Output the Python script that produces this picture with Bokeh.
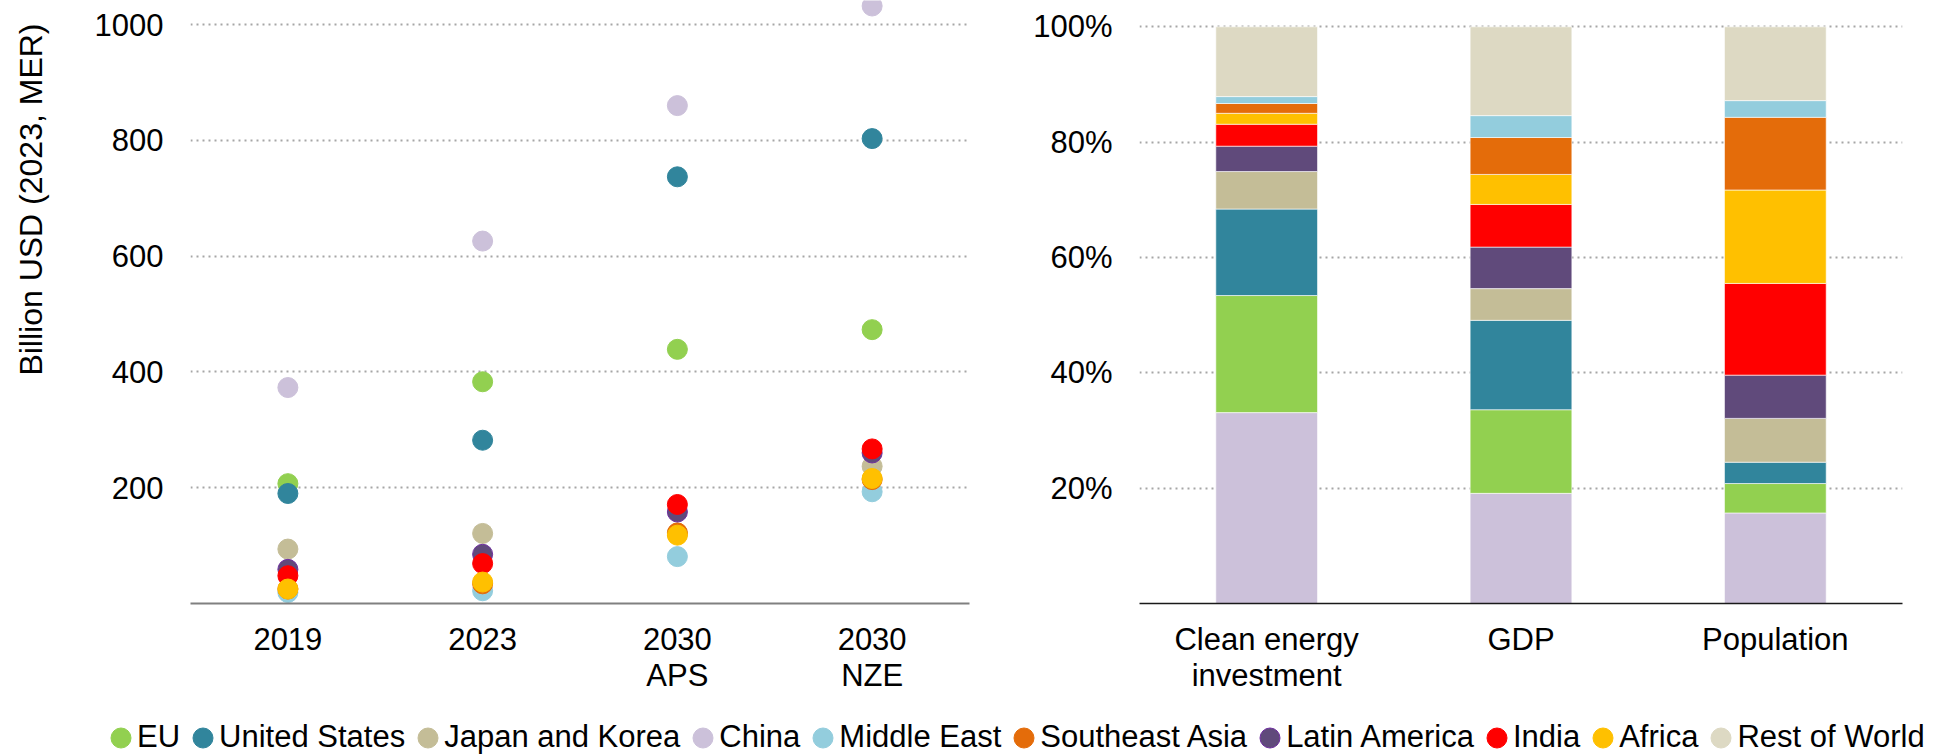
from bokeh.plotting import figure
from bokeh.models import (ColumnDataSource, FactorRange, Range1d, Legend, LegendItem,
                          NumeralTickFormatter, FixedTicker, Title)
from bokeh.layouts import column, row
from bokeh.embed import file_html
from bokeh.resources import INLINE

# ---------------- data ----------------
scenarios = ["2019", "2023", "2030\nAPS", "2030\nNZE"]

regions = ["EU", "United States", "Japan and Korea", "China", "Middle East",
           "Southeast Asia", "Latin America", "India", "Africa", "Rest of World"]
region_colors = ["#92D050", "#31859C", "#C4BD97", "#CCC1DA", "#93CDDD",
                 "#E46C0A", "#604A7B", "#FF0000", "#FFC000", "#DDD9C3"]

# Clean energy investment, billion USD (2023, MER)
inv_eu = [207, 383, 439, 473]
inv_us = [190, 282, 737, 803]
inv_jk = [94, 121, 120, 237]
inv_china = [373, 626, 860, 1032]
inv_me = [19, 22, 81, 193]
inv_sea = [25, 34, 122, 214]
inv_latam = [59, 85, 158, 260]
inv_india = [48, 69, 171, 267]
inv_africa = [25, 37, 118, 216]

# Shares (%) by metric
share_categories = ["Clean energy\ninvestment", "GDP", "Population"]
share_china = [33.1, 19.1, 15.7]
share_eu = [20.3, 14.5, 5.1]
share_us = [15.0, 15.5, 3.7]
share_jk = [6.5, 5.5, 7.6]
share_latam = [4.4, 7.2, 7.5]
share_india = [3.8, 7.4, 15.9]
share_africa = [1.9, 5.2, 16.2]
share_sea = [1.7, 6.4, 12.6]
share_me = [1.2, 3.8, 2.9]
share_row = [12.1, 15.4, 12.8]

left_ticks = [200, 400, 600, 800, 1000]
right_ticks = [0.2, 0.4, 0.6, 0.8, 1.0]
y_title = "Billion USD (2023, MER)"

FONT = "Liberation Sans"
FS = "31px"
color_of = dict(zip(regions, region_colors))

inv_series = {
    "EU": inv_eu, "United States": inv_us, "Japan and Korea": inv_jk,
    "China": inv_china, "Middle East": inv_me, "Southeast Asia": inv_sea,
    "Latin America": inv_latam, "India": inv_india, "Africa": inv_africa,
}
share_series = {
    "China": share_china, "EU": share_eu, "United States": share_us,
    "Japan and Korea": share_jk, "Latin America": share_latam, "India": share_india,
    "Africa": share_africa, "Southeast Asia": share_sea, "Middle East": share_me,
    "Rest of World": share_row,
}


def style_axes(p):
    for ax in (p.xaxis[0], p.yaxis[0]):
        ax.major_tick_line_color = None
        ax.minor_tick_line_color = None
        ax.major_tick_out = 0
        ax.major_tick_in = 0
        ax.major_label_text_font = FONT
        ax.major_label_text_font_size = FS
        ax.major_label_text_color = "black"
    p.xaxis.major_label_text_line_height = 1.03
    p.yaxis.axis_line_color = None
    p.yaxis.major_label_standoff = 27
    p.xaxis.major_label_standoff = 18
    p.xgrid.visible = False
    p.ygrid.grid_line_color = "#a6a6a6"
    p.ygrid.grid_line_dash = "2 4"
    p.ygrid.grid_line_width = 2
    p.outline_line_color = None


# ---------------- y title holder ----------------
p0 = figure(width=60, height=703, x_range=Range1d(0, 1), y_range=Range1d(0, 1),
            x_axis_type=None, y_axis_type=None,
            min_border_left=58, min_border_right=0,
            min_border_top=0, min_border_bottom=100,
            output_backend="svg", toolbar_location=None)
p0.outline_line_color = None
p0.grid.visible = False
p0.add_layout(Title(text=y_title, align="right", offset=23, vertical_align="bottom",
                    standoff=19, text_font=FONT, text_font_size="32px",
                    text_font_style="normal", text_color="black"), "left")

# ---------------- left: scatter ----------------
p1 = figure(x_range=FactorRange(*scenarios), y_range=Range1d(0, 1041.5),
            width=940, height=703, min_border_left=130, min_border_right=31,
            min_border_top=0, min_border_bottom=100,
            output_backend="svg", toolbar_location=None)
style_axes(p1)
p1.yaxis.ticker = FixedTicker(ticks=left_ticks)
p1.xaxis.axis_line_color = "#808080"
p1.xaxis.axis_line_width = 2

for name, vals in inv_series.items():
    src = ColumnDataSource(dict(x=scenarios, y=vals))
    lc = "#7030A0" if name == "Latin America" else color_of[name]
    p1.scatter(x="x", y="y", source=src, size=20, marker="circle",
               fill_color=color_of[name], line_color=lc, line_width=1)

# ---------------- right: stacked shares ----------------
stack_order = list(share_series.keys())
bar_data = {"cat": share_categories}
for name in stack_order:
    bar_data[name] = [v / 100.0 for v in share_series[name]]
bar_src = ColumnDataSource(bar_data)

p2 = figure(x_range=FactorRange(*share_categories), y_range=Range1d(0, 1.0456),
            width=948, height=703, min_border_left=139, min_border_right=46,
            min_border_top=0, min_border_bottom=100,
            output_backend="svg", toolbar_location=None)
style_axes(p2)
p2.yaxis.ticker = FixedTicker(ticks=right_ticks)
p2.yaxis.formatter = NumeralTickFormatter(format="0%")
p2.xaxis.axis_line_color = "#1a1a1a"
p2.xaxis.axis_line_width = 1.5
p2.vbar_stack(stack_order, x="cat", width=0.4, source=bar_src,
              color=[color_of[n] for n in stack_order],
              line_color="white", line_alpha=0.6, line_width=1)

# ---------------- legend ----------------
lf = figure(width=1948, height=52, x_range=Range1d(0, 1), y_range=Range1d(0, 1),
            x_axis_type=None, y_axis_type=None, min_border=0,
            output_backend="svg", toolbar_location=None)
lf.outline_line_color = None
lf.grid.visible = False
items = []
nan = float("nan")
for name in regions:
    lc = "#7030A0" if name == "Latin America" else color_of[name]
    r = lf.ellipse(x=[nan], y=[nan], width=20, height=20,
                   width_units="screen", height_units="screen",
                   fill_color=color_of[name], line_color=lc, line_width=1)
    items.append(LegendItem(label=name, renderers=[r]))
legend = Legend(items=items, orientation="horizontal", location=(108, 0),
                glyph_width=25, glyph_height=25, label_standoff=4, spacing=10,
                padding=0, margin=0, border_line_color=None,
                background_fill_alpha=0, label_text_font=FONT,
                label_text_font_size=FS, label_text_color="black")
lf.add_layout(legend)

layout = column(row(p0, p1, p2), lf)

open("out.html", "w").write(file_html(layout, INLINE, title="chart"))
